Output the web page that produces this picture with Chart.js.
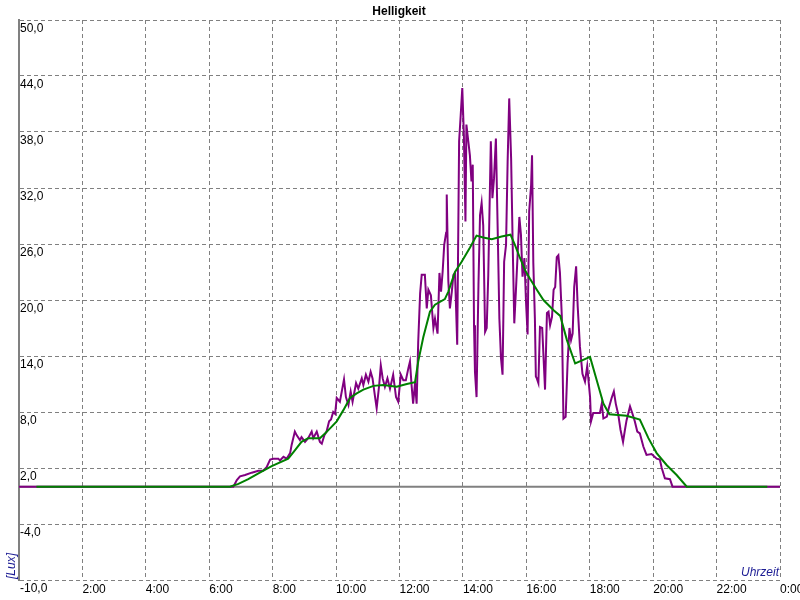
<!DOCTYPE html>
<html>
<head>
<meta charset="utf-8">
<script src="https://cdn.jsdelivr.net/npm/chart.js@4/dist/chart.umd.min.js"></script>
<style>
  body { margin: 0; background: #fff; }
  #wrap { width: 800px; height: 600px; }
</style>
</head>
<body>
<div id="wrap"><canvas id="chart" width="800" height="600"></canvas></div>
<script>
// Helligkeit over one day, time in hours
const rawHours = [0, 6.76, 6.87, 6.97, 7.13, 7.34, 7.55, 7.70, 7.81, 7.92, 8.02, 8.18, 8.23, 8.34, 8.44, 8.55, 8.60, 8.70, 8.76, 8.86,
  8.91, 9.02, 9.12, 9.23, 9.28, 9.39, 9.49, 9.55, 9.63, 9.70, 9.78, 9.84, 9.91, 9.97, 10.02, 10.12, 10.25, 10.31, 10.39, 10.46,
  10.52, 10.63, 10.70, 10.81, 10.86, 10.94, 11.02, 11.09, 11.15, 11.23, 11.28, 11.36, 11.41, 11.47, 11.54, 11.62, 11.70, 11.80, 11.89, 11.96,
  12.04, 12.12, 12.20, 12.28, 12.33, 12.38, 12.43, 12.49, 12.54, 12.59, 12.65, 12.70, 12.80, 12.86, 12.91, 12.99, 13.07, 13.12, 13.20, 13.26,
  13.31, 13.36, 13.41, 13.47, 13.49, 13.54, 13.59, 13.65, 13.70, 13.75, 13.82, 13.88, 13.93, 13.98, 14.03, 14.08, 14.11, 14.17, 14.22, 14.27,
  14.31, 14.35, 14.38, 14.43, 14.49, 14.54, 14.59, 14.64, 14.70, 14.75, 14.80, 14.88, 14.93, 14.98, 15.04, 15.10, 15.15, 15.20, 15.25, 15.30,
  15.36, 15.41, 15.46, 15.52, 15.57, 15.62, 15.67, 15.73, 15.78, 15.83, 15.88, 15.94, 15.99, 16.04, 16.09, 16.15, 16.18, 16.22, 16.27, 16.30,
  16.33, 16.38, 16.43, 16.50, 16.59, 16.65, 16.70, 16.75, 16.81, 16.86, 16.91, 16.96, 17.01, 17.06, 17.12, 17.17, 17.24, 17.30, 17.36, 17.41,
  17.46, 17.51, 17.57, 17.62, 17.69, 17.77, 17.85, 17.92, 18.01, 18.04, 18.11, 18.32, 18.38, 18.43, 18.54, 18.60, 18.69, 18.76, 18.82, 18.90,
  18.97, 19.05, 19.11, 19.16, 19.27, 19.34, 19.42, 19.50, 19.58, 19.69, 19.79, 19.95, 20.11, 20.21, 20.27, 20.37, 20.53, 20.61, 24];
const rawLux = [0, 0, 0.7, 1.1, 1.25, 1.5, 1.7, 1.7, 2.1, 2.9, 3.0, 3.0, 2.8, 3.2, 3.0, 3.6, 4.5, 5.9, 5.5, 5.0,
  5.3, 4.8, 5.2, 5.9, 5.2, 5.9, 4.8, 4.6, 5.5, 5.9, 7.0, 7.2, 8.0, 7.8, 9.5, 9.1, 11.5, 9.6, 8.75, 10.2,
  9.1, 11.1, 10.5, 11.6, 10.9, 12.0, 11.25, 12.3, 11.6, 9.6, 8.4, 10.9, 13.0, 11.6, 10.7, 11.6, 10.5, 12.0, 9.6, 9.1,
  12.0, 11.4, 11.4, 12.7, 13.4, 10.9, 8.9, 11.1, 8.9, 15.5, 20.7, 22.7, 22.7, 19.1, 21.1, 20.5, 17.0, 18.0, 16.4, 22.9,
  20.9, 23.0, 25.9, 27.2, 31.3, 22.0, 19.1, 20.9, 22.7, 22.9, 15.2, 37.0, 39.8, 42.7, 37.7, 28.4, 38.8, 37.0, 35.5, 32.7,
  34.5, 17.3, 12.3, 9.6, 21.6, 29.1, 30.4, 28.0, 16.6, 17.0, 22.7, 37.0, 30.9, 33.0, 37.3, 27.0, 18.0, 13.8, 12.0, 24.1,
  25.9, 34.8, 41.6, 35.2, 25.9, 17.5, 20.9, 25.2, 28.9, 27.0, 22.5, 24.5, 19.8, 16.3, 29.5, 32.3, 35.5, 24.0, 18.0, 11.8,
  11.6, 11.1, 17.1, 17.0, 10.4, 18.6, 18.75, 17.3, 18.2, 21.1, 21.4, 24.6, 24.8, 22.9, 18.2, 7.3, 7.5, 13.2, 17.0, 15.7,
  16.4, 21.4, 23.6, 19.3, 15.0, 12.1, 11.25, 12.9, 9.6, 7.0, 7.9, 7.9, 8.9, 7.3, 7.5, 8.4, 9.5, 10.2, 8.9, 7.7,
  6.1, 4.8, 6.1, 7.1, 8.6, 7.9, 7.0, 5.9, 5.7, 4.3, 3.4, 3.5, 3.0, 2.9, 2.0, 0.9, 0.8, 0, 0];

// smoothed curve
const avgHours = [0.55, 6.65, 6.92, 7.23, 7.65, 7.97, 8.49, 8.70, 8.91, 9.12, 9.49, 9.65, 9.81, 10.02, 10.23, 10.44, 10.65, 10.86, 11.18, 11.49,
  11.91, 12.23, 12.49, 12.59, 12.75, 12.96, 13.12, 13.43, 13.54, 13.75, 13.96, 14.22, 14.43, 14.64, 14.91, 15.22, 15.50, 15.64, 15.80, 15.96,
  16.11, 16.33, 16.54, 16.86, 17.07, 17.28, 17.54, 18.01, 18.22, 18.43, 18.62, 19.16, 19.58, 19.85, 20.11, 20.43, 20.74, 21.06, 23.60];
const avgLux = [0, 0, 0.3, 0.8, 1.6, 2.2, 3.0, 3.9, 4.8, 5.2, 5.2, 5.7, 6.25, 7.0, 8.2, 9.5, 10.0, 10.4, 10.8, 10.9,
  10.7, 11.0, 11.2, 13.4, 16.0, 18.75, 19.5, 20.1, 20.9, 23.0, 24.1, 25.6, 26.9, 26.7, 26.5, 26.8, 27.0, 25.9, 24.5, 23.2,
  22.3, 21.1, 20.0, 18.9, 18.3, 15.7, 13.2, 13.9, 11.4, 8.9, 7.75, 7.6, 7.2, 5.2, 3.6, 2.3, 1.25, 0, 0];

const zeroHours = [0, 24];
const zeroLux = [0, 0];

const yMin = -10, yMax = 50, yStep = 6;
const xStep = 2;

const font = { family: "'Liberation Sans', Arial, sans-serif", size: 12 };
const axisTextColor = '#1c1c94';

const toPoints = (xs, ys) => xs.map((x, i) => ({ x: x, y: ys[i] }));

const axisTitles = {
  id: 'axisTitles',
  afterDraw(chart) {
    const { ctx, chartArea } = chart;
    ctx.save();
    ctx.fillStyle = axisTextColor;
    ctx.font = "italic 12px 'Liberation Sans', Arial, sans-serif";
    ctx.textAlign = 'right';
    ctx.textBaseline = 'alphabetic';
    ctx.fillText('Uhrzeit', chartArea.right - 1, chartArea.bottom - 4);
    ctx.translate(chartArea.left - 4, chartArea.bottom - 1);
    ctx.rotate(-Math.PI / 2);
    ctx.textAlign = 'left';
    ctx.fillText('[Lux]', 0, 0);
    ctx.restore();
  }
};

new Chart(document.getElementById('chart'), {
  type: 'line',
  data: {
    datasets: [{
      data: toPoints(avgHours, avgLux),
      borderColor: '#008000',
      borderWidth: 2,
      order: 1
    }, {
      data: toPoints(rawHours, rawLux),
      borderColor: '#800080',
      borderWidth: 2,
      order: 2
    }, {
      data: toPoints(zeroHours, zeroLux),
      borderColor: '#808080',
      borderWidth: 2,
      order: 3
    }]
  },
  options: {
    responsive: false,
    animation: false,
    events: [],
    elements: { point: { radius: 0 }, line: { tension: 0 } },
    layout: { padding: { left: 18, right: 20, top: 0, bottom: 0 } },
    plugins: {
      legend: { display: false },
      tooltip: { enabled: false },
      title: {
        display: true,
        text: 'Helligkeit',
        color: '#000',
        font: { family: font.family, size: 12, weight: 'bold' },
        padding: { top: 4, bottom: 1.6 }
      }
    },
    scales: {
      x: {
        type: 'linear',
        min: 0,
        max: 24,
        afterFit(scale) {
          scale.height = 20;
          scale.paddingLeft = 0;
          scale.paddingRight = 0;
        },
        border: { display: false, dash: [4, 3] },
        grid: { color: '#808080', drawTicks: false },
        ticks: {
          stepSize: xStep,
          autoSkip: false,
          maxRotation: 0,
          align: 'start',
          padding: 2,
          color: '#000',
          font: font,
          callback: v => v === 0 ? '' : (v % 24) + ':00'
        }
      },
      y: {
        min: yMin,
        max: yMax,
        afterFit(scale) {
          scale.width = 1;
          scale.paddingTop = 0;
          scale.paddingBottom = 0;
        },
        border: { display: true, color: '#808080', width: 2, dash: [4, 3] },
        grid: { color: '#808080', drawTicks: false },
        ticks: {
          stepSize: yStep,
          mirror: true,
          padding: 1,
          labelOffset: 9,
          color: '#000',
          font: font,
          callback: v => v.toFixed(1).replace('.', ',')
        }
      }
    }
  },
  plugins: [axisTitles]
});
</script>
</body>
</html>
